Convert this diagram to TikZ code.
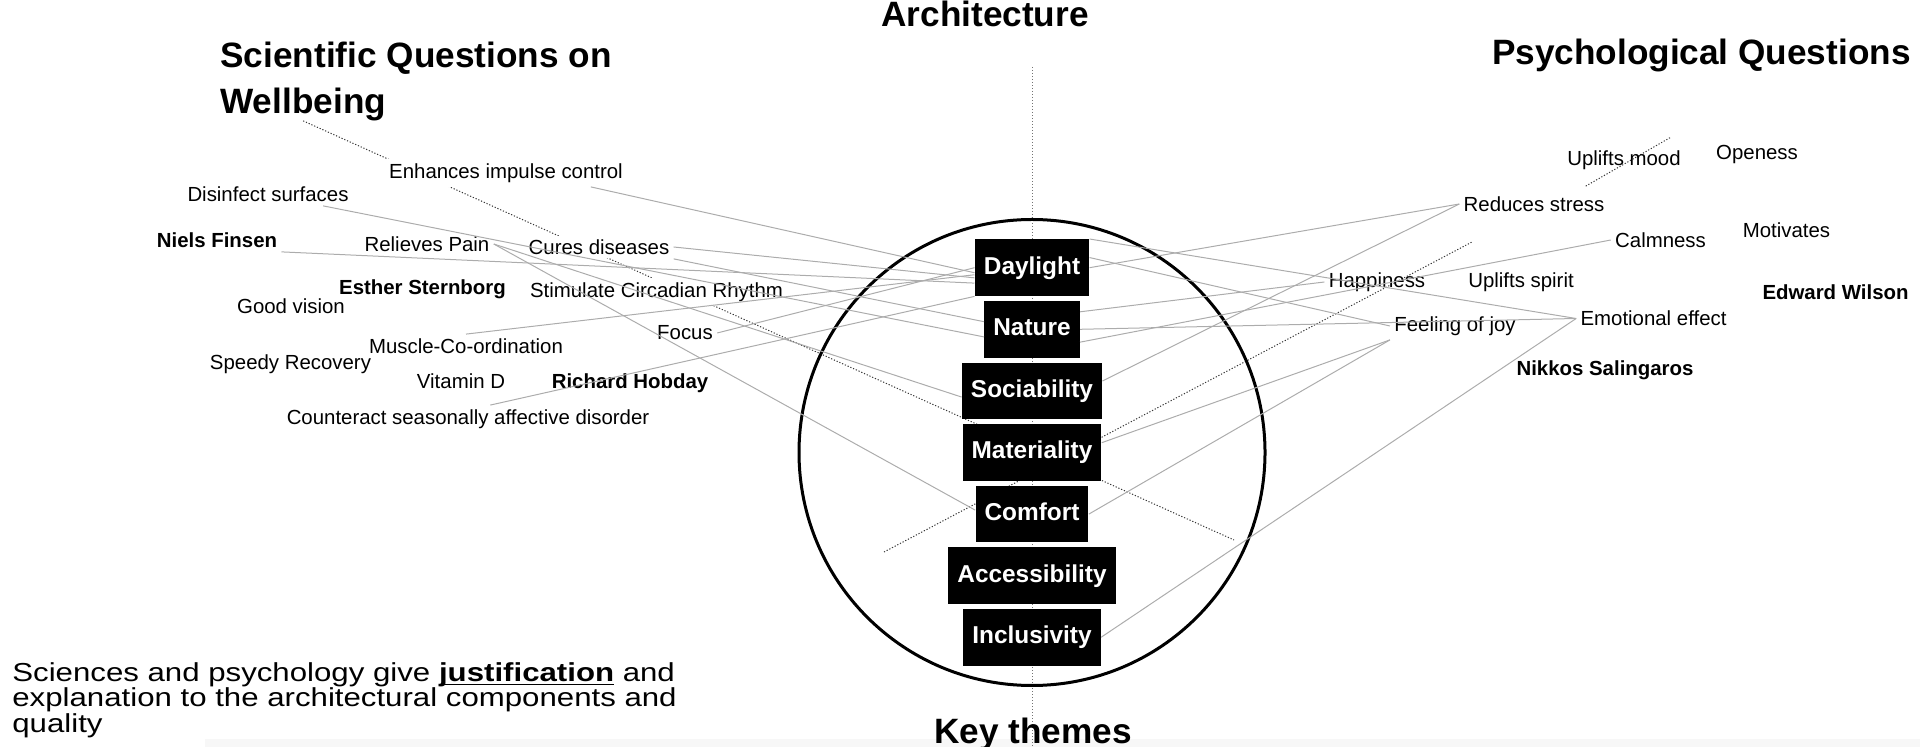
\documentclass[tikz,border=0pt]{standalone}
\usepackage{fontspec}
\setmainfont{Liberation Sans}
\newfontfamily\widefont[FakeStretch=1.2]{Liberation Sans}
\usetikzlibrary{matrix,calc,backgrounds}
\definecolor{linkgray}{RGB}{172,172,172}
\definecolor{dotgray}{RGB}{55,55,55}
\tikzset{
	keybox/.style={fill=black,text=white,font=\fontsize{12.2}{14}\selectfont\bfseries,inner xsep=4.5pt,minimum height=28.3pt,text height=9pt,text depth=2.6pt},
	lbl/.style={font=\fontsize{10.2}{12}\selectfont,inner sep=2pt},
	lblw/.style={lbl,fill=white},
	who/.style={lbl,font=\fontsize{10.2}{12}\selectfont\bfseries},
	heading/.style={font=\fontsize{17.6}{21}\selectfont\bfseries,inner sep=0pt},
	link/.style={draw=linkgray,line width=0.5pt},
	dots/.style={draw=dotgray,line width=0.5pt,dash pattern=on 0.6pt off 0.9pt},
	axisline/.style={draw=black!55,line width=0.4pt,dash pattern=on 0.5pt off 1pt}
}
\begin{document}
\begin{tikzpicture}[x=0.5pt,y=-0.5pt]
	\useasboundingbox (0,0) rectangle (1920,747);
	\matrix (themes) [matrix of nodes,row sep=2.5pt,nodes={keybox}] at (1032,452.5)
	{
		Daylight \\ Nature \\ Sociability \\ Materiality \\ Comfort \\ Accessibility \\ Inclusivity \\
	};
	\draw[line width=1.5pt] (themes.center) circle[radius=116.5pt];

	\node[heading] (arch) at (985,13.5) {Architecture};
	\node[heading] (key) at (1033,734) {Key themes};
	\node[heading,anchor=west] (sciq) at (220,58) {Scientific Questions on};
	\node[heading,anchor=west] (wellb) at (220,104) {Wellbeing};
	\node[heading,anchor=east] (psy) at (1911,55) {Psychological Questions};
	\node[anchor=west,align=left,inner sep=0pt,font=\widefont\fontsize{13}{12.8}\selectfont] (note) at (12,700) {Sciences and psychology give \underline{\smash{\textbf{justification}}} and\\explanation to the architectural components and\\quality};

	\node[lblw] (enh) at (506,173) {Enhances impulse control};
	\node[lbl] (dis) at (268,194) {Disinfect surfaces};
	\node[who] (niels) at (217,240) {Niels Finsen};
	\node[lbl] (rel) at (427,244) {Relieves Pain};
	\node[lblw] (cur) at (599,247) {Cures diseases};
	\node[who] (esther) at (422.5,289) {Esther Sternborg};
	\node[lbl] (vis) at (291,306) {Good vision};
	\node[lblw] (circ) at (656.5,292) {Stimulate Circadian Rhythm};
	\node[lbl] (mus) at (466,346) {Muscle-Co-ordination};
	\node[lbl] (foc) at (685,333) {Focus};
	\node[lbl] (rec) at (290.5,364) {Speedy Recovery};
	\node[lbl] (vitd) at (461,381) {Vitamin D};
	\node[who] (hob) at (630,383) {Richard Hobday};
	\node[lbl] (sad) at (468,419) {Counteract seasonally affective disorder};

	\node[lbl] (mood) at (1624,160) {Uplifts mood};
	\node[lbl] (open) at (1757,155) {Openess};
	\node[lbl] (red) at (1534,204) {Reduces stress};
	\node[lbl] (calm) at (1660.5,240) {Calmness};
	\node[lbl] (mot) at (1786.5,230.5) {Motivates};
	\node[lbl] (hap) at (1377,282) {Happiness};
	\node[lbl] (spirit) at (1521,282) {Uplifts spirit};
	\node[who] (wilson) at (1835.5,292.5) {Edward Wilson};
	\node[lbl] (joy) at (1455,326) {Feeling of joy};
	\node[lbl] (emo) at (1653.5,318.5) {Emotional effect};
	\node[who] (sal) at (1605,370) {Nikkos Salingaros};

	\path[link]
		($(enh.south)!0.7!(enh.south east)$) edge (themes-1-1.185)
		(niels.south east) edge (themes-1-1.195)
		($(dis.south)!0.65!(dis.south east)$) edge (themes-2-1.189)
		(rel.east) edge (themes-3-1.185)
		(rel.east) edge (themes-5-1.176)
		(cur.east) edge (themes-1-1.190)
		(cur.south east) edge (themes-2-1.171)
		(mus.north) edge (themes-1-1.187)
		(foc.east) edge (themes-1-1.west)
		($(sad.north)!0.12!(sad.north east)$) edge (themes-1-1.south west);
	\path[link]
		(themes-1-1.east) edge (red.west)
		(themes-3-1.8) edge (red.west)
		(themes-1-1.north east) edge (emo.west)
		(themes-1-1.10) edge (joy.west)
		(themes-2-1.20) edge (hap.west)
		(themes-2-1.east) edge (emo.west)
		(themes-2-1.-15) edge (calm.west)
		(themes-4-1.8) edge (joy.south west)
		(themes-5-1.east) edge (joy.south west)
		(themes-7-1.east) edge (emo.west);

	\begin{scope}[on background layer]
		\fill[black!3] (205,739) rectangle (1920,747);
		\draw[axisline] (themes.center |- 0,67) -- (themes.center |- 0,747);
		\coordinate (aend) at ($(themes-4-1.center)+(202,87.5)$);
		\coordinate (bstart) at ($(themes-4-1.center)+(-148,99.5)$);
		\coordinate (bend) at ($(themes-4-1.center)+(440,-210.5)$);
		\coordinate (moodend) at ($(mood.north east)+(-14,-9)$);
		\draw[dots] (wellb.south) -- (aend);
		\draw[dots] (bstart) -- (bend);
		\draw[dots] ($(red.north east)+(-23,-6)$) -- (moodend);
	\end{scope}
\end{tikzpicture}
\end{document}
